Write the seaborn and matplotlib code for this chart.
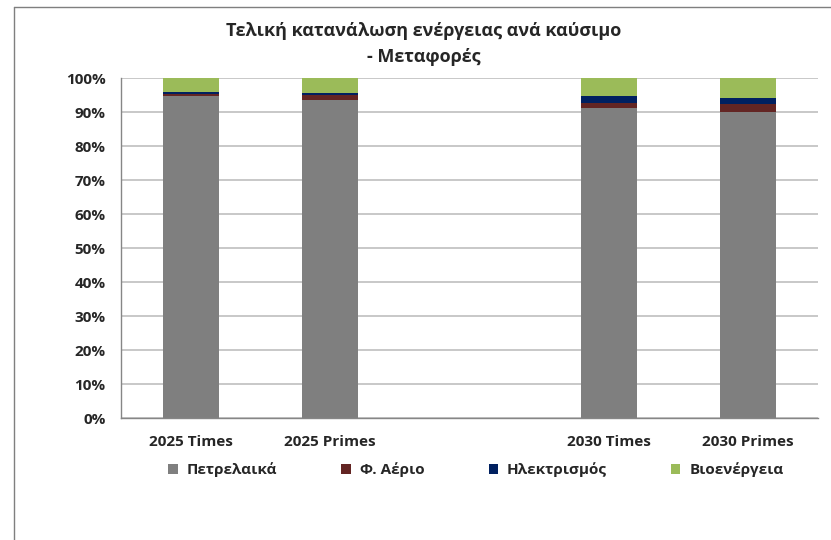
import numpy as np
import pandas as pd
from matplotlib import pyplot as plt
from matplotlib.patches import Patch
from matplotlib.lines import Line2D
from matplotlib.ticker import PercentFormatter
import seaborn as sns

categories = ['2025 Times', '2025 Primes', ' ', '2030 Times', '2030 Primes']
scenarios = ['2025 Times', '2025 Primes', '2030 Times', '2030 Primes']
petroleum = [94.7, 93.5, 91.1, 90.1]
natural_gas = [0.6, 1.4, 1.5, 2.3]
electricity = [0.7, 0.6, 2.2, 1.6]
bioenergy = [4.0, 4.5, 5.2, 6.0]
fuels = ['Πετρελαικά', 'Φ. Αέριο', 'Ηλεκτρισμός', 'Βιοενέργεια']
colors = ['#7f7f7f', '#632523', '#002060', '#9bbb59']

sns.set_style('white')
plt.rcParams['font.family'] = ['Open Sans', 'DejaVu Sans']
plt.rcParams['font.weight'] = 'bold'

df = pd.DataFrame({'scenario': scenarios, fuels[0]: petroleum, fuels[1]: natural_gas,
                   fuels[2]: electricity, fuels[3]: bioenergy})
cum = df[fuels].cumsum(axis=1)
cum['scenario'] = scenarios

fig = plt.figure(figsize=(8.31, 5.4), dpi=100)
ax = fig.add_axes([121 / 831, 1 - 418 / 540, (818 - 121) / 831, 340 / 540])

# stacked bars: draw cumulative totals from top layer down
for fuel, c in reversed(list(zip(fuels, colors))):
    sns.barplot(data=cum, x='scenario', y=fuel, order=categories, color=c,
                width=0.4, saturation=1, linewidth=0, ax=ax)

ax.set_xlim(-0.5, 4.5)
ax.set_ylim(0, 100)
ax.set_yticks(np.arange(0, 101, 10))
ax.yaxis.set_major_formatter(PercentFormatter(decimals=0))
ax.set_xticks(np.arange(-0.5, 5, 1))
ax.set_xticklabels([''] * 6)
ax.set_xticks(range(5), minor=True)
ax.set_xticklabels(categories, minor=True)
ax.tick_params(axis='x', which='major', length=5, color='#868686', direction='out')
ax.tick_params(axis='x', which='minor', length=0, pad=12, labelsize=11)
ax.tick_params(axis='y', length=5, color='#868686', direction='out', pad=6, labelsize=11)
ax.set_xlabel('')
ax.set_ylabel('')
ax.yaxis.grid(True, color='#bfbfbf', lw=1.2)
ax.set_axisbelow(True)
for s in ['top', 'right']:
    ax.spines[s].set_visible(False)
for s in ['left', 'bottom']:
    ax.spines[s].set_color('#868686')
    ax.spines[s].set_linewidth(1)

fig.text(424 / 831, 1 - 44 / 540, 'Τελική κατανάλωση ενέργειας ανά καύσιμο\n- Μεταφορές',
         ha='center', va='center', fontsize=13, fontweight='bold', linespacing=1.5)

handles = [Patch(facecolor=c, edgecolor='none') for c in colors]
fig.legend(handles, fuels, loc='center', bbox_to_anchor=(476 / 831, 1 - 470 / 540),
           ncol=4, frameon=False, fontsize=11, handlelength=0.6, handleheight=0.6,
           handletextpad=0.6, columnspacing=4.2)

# outer chart frame
fig.add_artist(Line2D([14 / 831, 1], [1 - 7 / 540, 1 - 7 / 540], color='#7f7f7f', lw=1))
fig.add_artist(Line2D([14 / 831, 14 / 831], [0, 1 - 7 / 540], color='#7f7f7f', lw=1))

fig.savefig('out.png', dpi=100)
